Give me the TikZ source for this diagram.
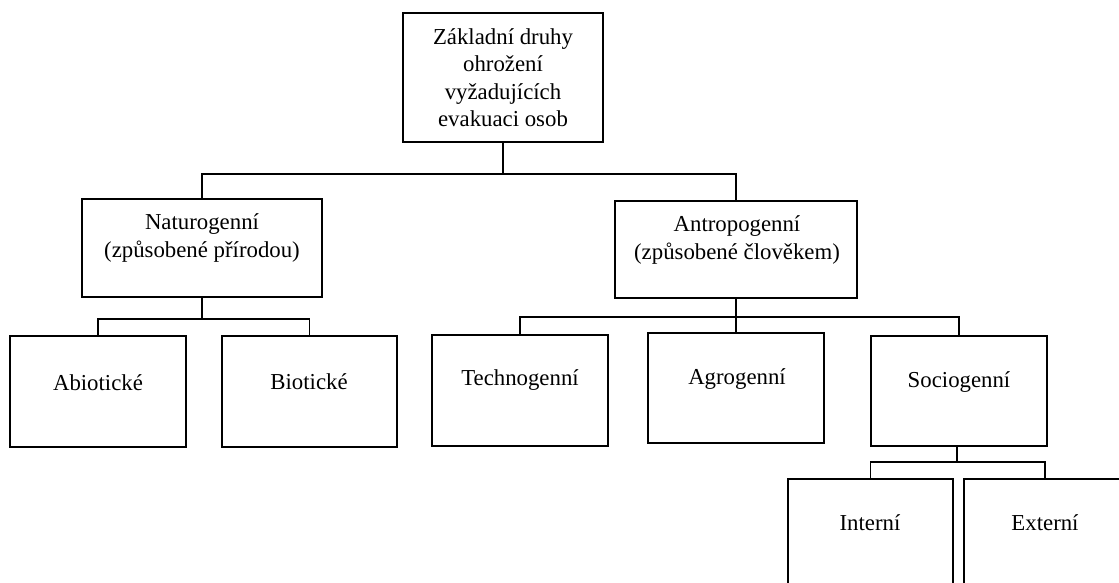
\documentclass[tikz,border=0pt]{standalone}
\usepackage{fontspec}
\setmainfont{Liberation Serif}
\begin{document}
\begin{tikzpicture}[x=1pt,y=-1pt,
  box/.style={draw=black,line width=2.2pt,rectangle,inner sep=0pt,fill=white},
  lbl/.style={font=\fontsize{22.8}{27.5}\selectfont,align=center,inner sep=0pt,text=black},
  conn/.style={draw=black,line width=1.8pt}]
\clip (0,0) rectangle (1119,583);
\fill[white] (0,0) rectangle (1119,583);
% boxes
\node[box,minimum width=200pt,minimum height=129pt,lbl] (top) at (503,77.5)
  {Základní druhy\\ohrožení\\vyžadujících\\evakuaci osob};
\node[box,minimum width=240pt,minimum height=98pt] (nat) at (202,248) {};
\node[box,minimum width=242pt,minimum height=97pt] (ant) at (736,249.5) {};
\node[box,minimum width=176pt,minimum height=111pt] (abi) at (98,391.5) {};
\node[box,minimum width=175pt,minimum height=111pt] (bio) at (309.5,391.5) {};
\node[box,minimum width=176pt,minimum height=111pt] (tech) at (520,390.5) {};
\node[box,minimum width=176pt,minimum height=110pt] (agro) at (736,388) {};
\node[box,minimum width=176pt,minimum height=110pt] (soc) at (959,391) {};
\node[box,minimum width=165pt,minimum height=130pt] (int) at (870.5,544) {};
\node[box,minimum width=162pt,minimum height=130pt] (ext) at (1045,544) {};
% labels
\node[lbl] (natl) at (202,238) {Naturogenní\\(způsobené přírodou)};
\node[lbl] (antl) at (737,240) {Antropogenní\\(způsobené člověkem)};
\node[lbl] (abil) at (98,383) {Abiotické};
\node[lbl] (biol) at (309,382) {Biotické};
\node[lbl] (techl) at (520,380) {Technogenní};
\node[lbl] (agrol) at (737,379) {Agrogenní};
\node[lbl] (socl) at (959,382) {Sociogenní};
\node[lbl] (intl) at (870,523) {Interní};
\node[lbl] (extl) at (1045,523) {Externí};
% junctions
\coordinate (j1) at (503,174);
\coordinate (j2) at (736,317);
\coordinate (j3) at (202,319);
\coordinate (j4) at (957,462);
% connectors
\draw[conn] (top.south) -- (j1);
\draw[conn] (nat.north) |- (j1) -| (ant.north);
\draw[conn] (nat.south) -- (j3);
\draw[conn] (abi.north) |- (j3) -| (bio.north);
\draw[conn] (ant.south) -- (j2);
\draw[conn] (tech.north) |- (j2) -| (soc.north);
\draw[conn] (agro.north) -- (agro.north |- j2);
\draw[conn] (soc.south -| j4) -- (j4);
\draw[conn] (int.north) |- (j4) -| (ext.north);
\end{tikzpicture}
\end{document}
